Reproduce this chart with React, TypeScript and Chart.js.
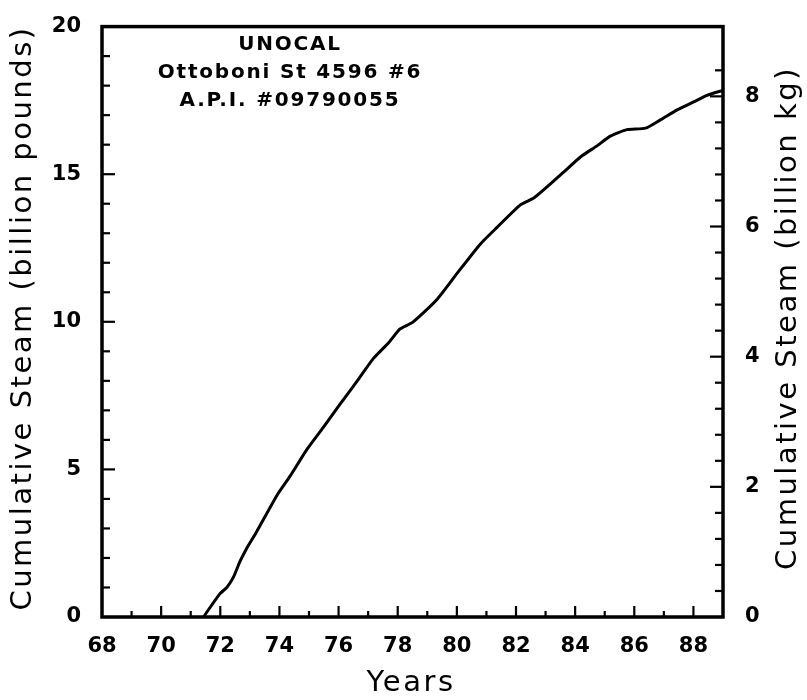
import React, { useEffect, useRef } from 'react';
import { Chart, registerables } from 'chart.js';

Chart.register(...registerables);

// ---- data ----
const years = [71.43, 71.99, 72.22, 72.44, 72.67, 72.9, 73.23, 73.91, 74.36, 74.92, 75.49, 76.05, 76.62, 77.18, 77.7, 78.08, 78.5, 79.32, 80.0, 80.79, 81.35, 82.15, 82.6, 83.05, 83.61, 84.2, 84.74, 85.19, 85.75, 86.38, 86.88, 87.45, 88.01, 88.46, 89.0];
const steamBillionPounds = [0, 0.79, 1.0, 1.34, 1.89, 2.34, 2.89, 4.11, 4.77, 5.66, 6.43, 7.21, 7.98, 8.76, 9.3, 9.76, 9.98, 10.75, 11.63, 12.63, 13.19, 13.96, 14.19, 14.57, 15.07, 15.6, 15.96, 16.29, 16.51, 16.56, 16.84, 17.18, 17.45, 17.67, 17.84];

const X_MIN = 68;
const X_MAX = 89;
const Y_MIN = 0;
const Y_MAX = 20;
const LB_PER_KG = 2.20462;
const Y2_MAX = Y_MAX / LB_PER_KG;

const xTitle = 'Years';
const yTitle = 'Cumulative Steam (billion pounds)';
const y2Title = 'Cumulative Steam (billion kg)';
const noteLines = ['UNOCAL', 'Ottoboni St 4596 #6', 'A.P.I. #09790055'];

const FONT = '"DejaVu Sans", sans-serif';

const near = (v: number, step: number) => Math.abs(v / step - Math.round(v / step)) < 1e-6;

const decorPlugin = {
  id: 'decor',
  afterDraw(chart: any) {
    const { ctx, chartArea: a, scales } = chart;
    ctx.save();
    ctx.strokeStyle = '#000';
    ctx.fillStyle = '#000';
    // frame
    ctx.lineWidth = 3.5;
    ctx.strokeRect(a.left, a.top, a.right - a.left, a.bottom - a.top);

    // inward tick marks
    ctx.lineWidth = 2.2;
    const seg = (x1: number, y1: number, x2: number, y2: number) => {
      ctx.beginPath();
      ctx.moveTo(x1, y1);
      ctx.lineTo(x2, y2);
      ctx.stroke();
    };
    const sx = scales.x;
    sx.ticks.forEach((t: any) => {
      const v = t.value;
      if (v <= X_MIN || v >= X_MAX || !near(v, 1)) return;
      const px = sx.getPixelForValue(v);
      seg(px, a.bottom, px, a.bottom - (near(v, 2) ? 11 : 6));
    });
    const sy = scales.y;
    sy.ticks.forEach((t: any) => {
      const v = t.value;
      if (v <= Y_MIN || v >= Y_MAX || !near(v, 1)) return;
      const py = sy.getPixelForValue(v);
      seg(a.left, py, a.left + (near(v, 5) ? 13 : 8), py);
    });
    const sy2 = scales.y2;
    sy2.ticks.forEach((t: any) => {
      const v = t.value;
      if (v <= 0 || v >= Y2_MAX || !near(v, 0.4)) return;
      const py = sy2.getPixelForValue(v);
      seg(a.right, py, a.right - (near(v, 2) ? 13 : 8), py);
    });

    // axis titles
    (ctx as any).letterSpacing = '2.5px';
    ctx.font = `29px ${FONT}`;
    ctx.textAlign = 'center';
    ctx.textBaseline = 'middle';
    ctx.save();
    ctx.translate(23, 318);
    ctx.rotate(-Math.PI / 2);
    ctx.fillText(yTitle, 0, 0);
    ctx.restore();
    ctx.save();
    ctx.translate(788, 318);
    ctx.rotate(-Math.PI / 2);
    ctx.fillText(y2Title, 0, 0);
    ctx.restore();
    ctx.fillText(xTitle, 411, 683);

    // annotation
    (ctx as any).letterSpacing = '1.8px';
    ctx.font = `bold 20px ${FONT}`;
    const noteY = [45, 73, 101];
    noteLines.forEach((s, i) => ctx.fillText(s, 290, noteY[i]));
    ctx.restore();
  },
};

export default function App() {
  const ref = useRef<HTMLCanvasElement | null>(null);
  useEffect(() => {
    if (!ref.current) return;
    const points = years.map((x, i) => ({ x, y: steamBillionPounds[i] }));
    const tickFont = { family: FONT, size: 21, weight: 'bold' as const };
    const chart = new Chart(ref.current, {
      type: 'line',
      data: {
        datasets: [
          {
            data: points,
            borderColor: '#000',
            borderWidth: 3,
            pointRadius: 0,
            tension: 0.2,
            fill: false,
            yAxisID: 'y',
          },
        ],
      },
      options: {
        responsive: false,
        animation: false,
        devicePixelRatio: 1,
        layout: { padding: { top: 15, left: 0, right: 0, bottom: 0 } },
        plugins: { legend: { display: false }, tooltip: { enabled: false } },
        scales: {
          x: {
            type: 'linear',
            min: X_MIN,
            max: X_MAX,
            grid: { display: false },
            border: { display: false },
            ticks: {
              stepSize: 1,
              autoSkip: false,
              maxRotation: 0,
              padding: 9,
              color: '#000',
              font: tickFont,
              callback: (v: any) => (near(v, 2) && v <= 88 ? String(v) : ''),
            },
            afterFit: (s: any) => {
              s.height = 83;
            },
          },
          y: {
            type: 'linear',
            position: 'left',
            min: Y_MIN,
            max: Y_MAX,
            grid: { display: false },
            border: { display: false },
            ticks: {
              stepSize: 1,
              autoSkip: false,
              padding: 13,
              color: '#000',
              font: tickFont,
              callback: (v: any) => (near(v, 5) ? String(v) : ''),
            },
            afterFit: (s: any) => {
              s.width = 102;
            },
          },
          y2: {
            type: 'linear',
            position: 'right',
            min: 0,
            max: Y2_MAX,
            grid: { display: false },
            border: { display: false },
            ticks: {
              stepSize: 0.4,
              autoSkip: false,
              padding: 14,
              color: '#000',
              font: tickFont,
              callback: (v: any) => (near(v, 2) && v < Y2_MAX ? String(Math.round(v)) : ''),
            },
            afterFit: (s: any) => {
              s.width = 84;
            },
          },
        },
      },
      plugins: [decorPlugin],
    });
    return () => chart.destroy();
  }, []);
  return (
    <div style={{ position: 'absolute', left: 0, top: 0, width: 807, height: 700, background: '#fff' }}>
      <canvas ref={ref} width={807} height={700} style={{ display: 'block' }} />
    </div>
  );
}
